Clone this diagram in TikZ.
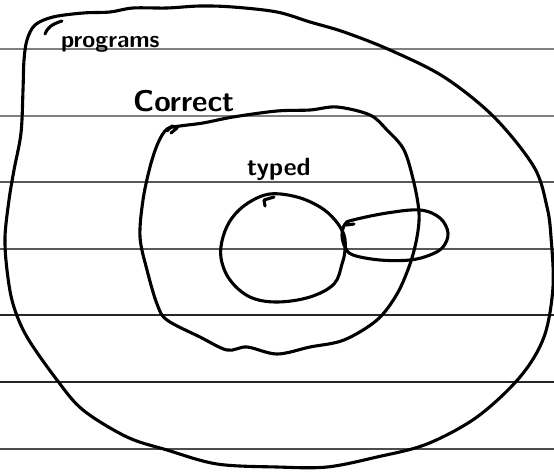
\documentclass[tikz,border=0pt]{standalone}
\begin{document}
\begin{tikzpicture}[x=1pt,y=-1pt,
  ink/.style={line width=3.1pt,line join=round,line cap=round,black},
  ruled/.style={line width=1.2pt},
  hand/.style={anchor=base west,inner sep=0pt,font=\sffamily}]
\useasboundingbox (0,0) rectangle (554,474);
% ruled paper lines
\foreach \yy/\cc in {49/gray,116/gray,182/gray!70!black,249/gray!70!black,315/black!85,382/black!85,449/gray!60!black}
  \draw[ruled,\cc] (0,\yy) -- (554,\yy);
% outer region: programs
\draw[ink] plot[smooth cycle,tension=0.55] coordinates {
 (35,25) (53,17) (83,13) (110,12) (133,8) (167,8) (200,6) (233,7) (277,12)
 (310,22) (344,32) (390,50) (444,77) (494,117) (534,167) (547,207) (551,237)
 (553,287) (544,337) (520,377) (477,417) (427,444) (377,457) (327,467)
 (277,467) (217,464) (167,450) (127,437) (83,410) (57,380) (27,337) (13,304)
 (7,270) (5,237) (9,200) (14,170) (21,133) (23,90) (24,60) (27,40)};
\draw[ink] (45,34) .. controls (47,28) and (52,24) .. (62,21);
% middle region: correct
\draw[ink] plot[smooth cycle,tension=0.55] coordinates {
 (167,129) (180,126) (203,123) (233,117) (277,111) (310,110) (337,107)
 (370,115) (387,130) (404,150) (414,183) (419,213) (417,237) (410,264)
 (397,294) (377,320) (344,340) (310,347) (277,354) (247,347) (227,350)
 (200,337) (167,320) (157,304) (147,270) (140,237) (143,200) (150,167)
 (158,143)};
\draw[ink] (167,131) -- (172,126) -- (177,128) -- (171,133);
% inner region: typed
\draw[ink] plot[smooth cycle,tension=0.6] coordinates {
 (270,194) (297,197) (320,207) (335,220) (344,235) (345,250) (342,264)
 (334,284) (310,297) (277,302) (250,297) (230,280) (221,258) (223,237)
 (232,218) (248,203)};
\draw[ink] (274,197) -- (264,200) -- (265,206);
% lobe on the right
\draw[ink] plot[smooth cycle,tension=0.6] coordinates {
 (345,224) (353,220) (387,213) (420,210) (440,218) (448,233) (443,247)
 (430,255) (410,260) (380,260) (353,255) (345,247) (342,235)};
\draw[ink] (346,225) -- (354,224);
% labels
\node[hand,font=\sffamily\bfseries\fontsize{23.5}{24}\selectfont] (tprog) at (61,47) {programs};
\node[hand,font=\sffamily\bfseries\fontsize{30}{30}\selectfont] (tcorr) at (133,111) {Correct};
\node[hand,font=\sffamily\bfseries\fontsize{25}{25}\selectfont] (ttyp) at (247,175) {typed};
\end{tikzpicture}
\end{document}
